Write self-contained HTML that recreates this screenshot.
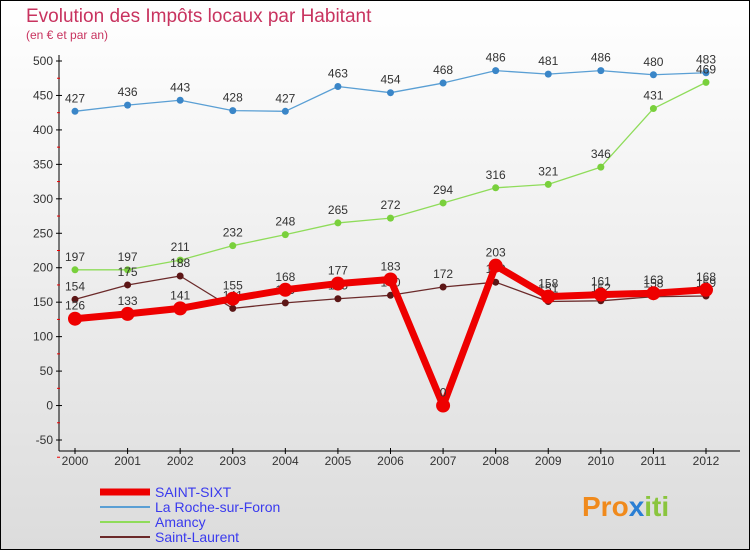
<!DOCTYPE html>
<html><head><meta charset="utf-8"><style>
body{margin:0}
svg text{font-family:"Liberation Sans",sans-serif}
</style></head><body>
<svg id="c" width="750" height="550" xmlns="http://www.w3.org/2000/svg">
<defs><linearGradient id="bg" x1="0" y1="0" x2="0" y2="1"><stop offset="0" stop-color="#ffffff"/><stop offset="1" stop-color="#dcdcdc"/></linearGradient></defs>
<rect x="0.5" y="0.5" width="749" height="549" fill="url(#bg)" stroke="#000"/>
<text x="26" y="22" font-size="19" fill="#c8335f">Evolution des Impôts locaux par Habitant</text>
<text x="26" y="39" font-size="12" fill="#c8335f">(en € et par an)</text>
<g id="axes"></g><g id="series"></g><g id="legend"></g>
<text x="582" y="516" font-size="28" font-weight="bold" fill="#f08a1c">Pro<tspan fill="#2a7fd4">x</tspan><tspan fill="#8ac53e">iti</tspan></text>
</svg>
<script>
const years=[2000,2001,2002,2003,2004,2005,2006,2007,2008,2009,2010,2011,2012];
const yTicks=[500,450,400,350,300,250,200,150,100,50,0,-50];
const laRoche=[427,436,443,428,427,463,454,468,486,481,486,480,483];
const amancy=[197,197,211,232,248,265,272,294,316,321,346,431,469];
const saintSixt=[126,133,141,155,168,177,183,0,203,158,161,163,168];
const saintLaurent=[154,175,188,141,149,155,160,172,179,151,152,158,159];
const NS="http://www.w3.org/2000/svg";
const X=i=>75+i*(706-75)/12;
const Y=v=>61+(500-v)*(440-61)/550;
function mk(t,a,p){const e=document.createElementNS(NS,t);for(const k in a)e.setAttribute(k,a[k]);(p||document.getElementById('series')).appendChild(e);return e;}
const ax=document.getElementById('axes');
let e=mk('line',{x1:59,y1:55,x2:59,y2:451,stroke:'#000'},ax);

e=mk('line',{x1:59,y1:451,x2:740,y2:451,stroke:'#000'},ax);

yTicks.forEach(v=>{
 const t=mk('text',{x:53,y:Y(v)+4,'font-size':12,fill:'#333','text-anchor':'end'},ax);t.textContent=v;
 
 mk('line',{x1:56,y1:Y(v),x2:62,y2:Y(v),stroke:'#000'},ax);
 mk('line',{x1:57,y1:Y(v-25),x2:60,y2:Y(v-25),stroke:'#e00'},ax);
});
years.forEach((y,i)=>{
 const t=mk('text',{x:X(i),y:465,'font-size':12,fill:'#333','text-anchor':'middle'},ax);t.textContent=y;
 
 mk('line',{x1:X(i),y1:448,x2:X(i),y2:454,stroke:'#000'},ax);
});
const series=[
 {d:laRoche,c:'#5a9fd4',w:1.3,r:3.5,fc:'#3a86c8',n:'la-roche'},
 {d:amancy,c:'#8fdc5a',w:1.3,r:3.5,fc:'#79d03c',n:'amancy'},
 {d:saintLaurent,c:'#6b2a2a',w:1.3,r:3.5,fc:'#5c1616',n:'saint-laurent'},
 {d:saintSixt,c:'#ee0000',w:7,r:7,fc:'#ee0000',n:'saint-sixt'}];
series.forEach(s=>{
 const l=mk('polyline',{points:s.d.map((v,i)=>X(i)+','+Y(v)).join(' '),fill:'none',stroke:s.c,'stroke-width':s.w,'stroke-linejoin':'round'});
 
 s.d.forEach((v,i)=>{
  const p=mk('circle',{cx:X(i),cy:Y(v),r:s.r,fill:s.fc});
  
  const t=mk('text',{x:X(i),y:Y(v)-9,'font-size':12,fill:'#333','text-anchor':'middle'});t.textContent=v;
  
 });
});
const lg=document.getElementById('legend');
[['SAINT-SIXT','#ee0000',7],['La Roche-sur-Foron','#5a9fd4',2],['Amancy','#8fdc5a',2],['Saint-Laurent','#6b2a2a',2]].forEach((d,i)=>{
 const y=492+i*15;
 const l=mk('line',{x1:100,y1:y,x2:150,y2:y,stroke:d[1],'stroke-width':d[2]},lg);
 
 const t=mk('text',{x:155,y:y+5,'font-size':14,fill:'#3a3aee'},lg);t.textContent=d[0];
 
});
</script>
</body></html>
